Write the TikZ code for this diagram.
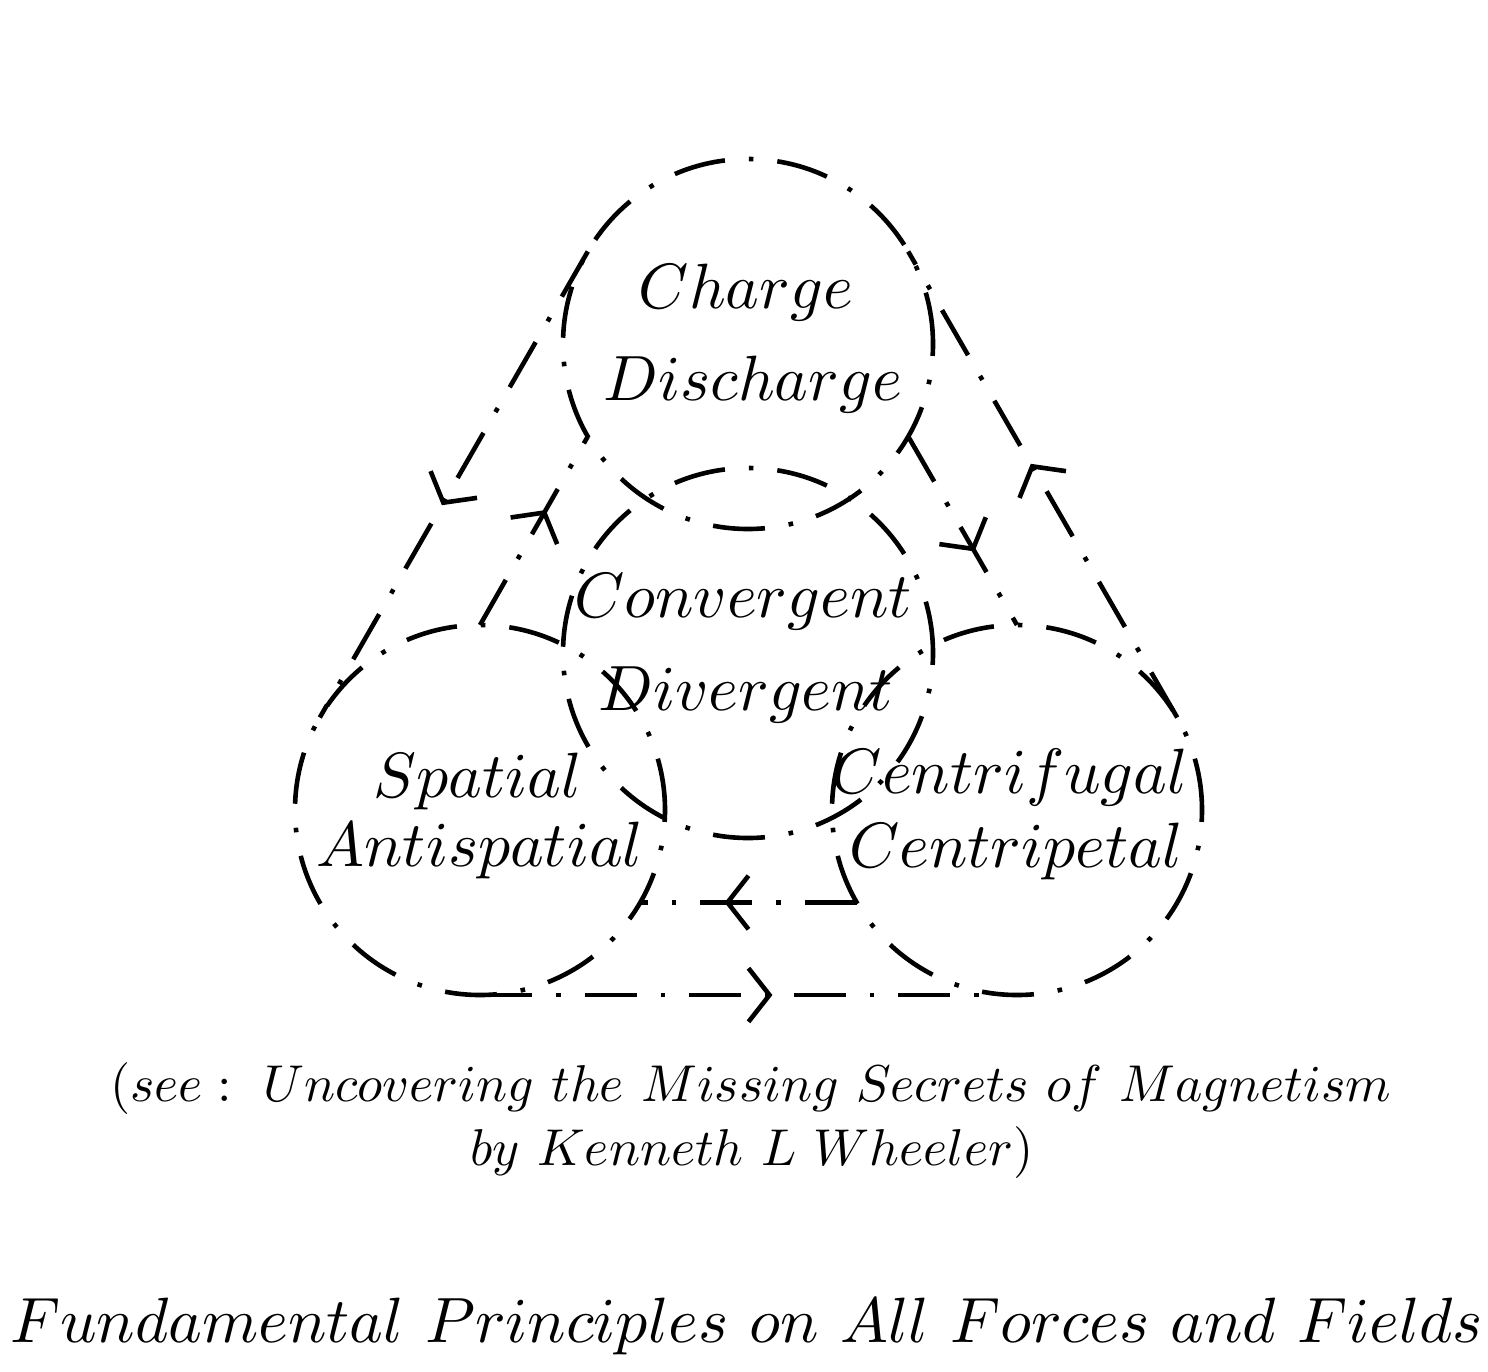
\documentclass[tikz,border=0pt]{standalone}
\usetikzlibrary{decorations.markings}
\begin{document}
\begin{tikzpicture}[x=0.5pt,y=-0.5pt,
  dd/.style={line width=2.3pt, line cap=butt, dash pattern=on 26pt off 12pt on 2.3pt off 12pt},
  ring/.style={circle, draw, dd, minimum size=185pt, inner sep=0pt, outer sep=0pt},
  flow/.style={dd, postaction={decorate}, decoration={markings, mark=at position 0.5 with {\draw[solid, line width=2.3pt, line join=miter] (0pt,13.4pt) -- (10.5pt,0pt) -- (0pt,-13.4pt);}}},
  lbl/.style={anchor=base, inner sep=0pt, outer sep=0pt, scale=3.2},
  captxt/.style={anchor=base, inner sep=0pt, outer sep=0pt, scale=2.59},
]
\useasboundingbox (0,0) rectangle (1488,1371);
% circles
\node[ring] (ctop) at (748,344) {};
\node[ring] (cmid) at (748,653) {};
\node[ring] (cleft) at (480,810) {};
\node[ring] (cright) at (1017,810) {};
% labels
\node[lbl] (t1) at (746,308) {$Charge$};
\node[lbl] (t2) at (753,400) {$Discharge$};
\node[lbl] (t3) at (743,617) {$Convergent$};
\node[lbl] (t4) at (746,710) {$Divergent$};
\node[lbl] (t5) at (478,797) {$Spatial$};
\node[lbl] (t6) at (480,866) {$Antispatial$};
\node[lbl] (t7) at (1010,793) {$Centrifugal$};
\node[lbl] (t8) at (1016,867) {$Centripetal$};
% outer loop
\draw[flow] (ctop.150) -- (cleft.150);
\draw[flow] (cleft.270) -- (cright.270);
\draw[flow] (cright.30) -- (ctop.30);
% inner loop
\draw[flow] (cleft.90) -- (ctop.210);
\draw[flow] (ctop.330) -- (cright.90);
\draw[flow] (cright.210) -- (cleft.330);
% captions
\node[captxt] (c1) at (751,1101) {$(see:\ Uncovering\ the\ Missing\ Secrets\ of\ Magnetism$};
\node[captxt] (c2) at (752,1165) {$by\ Kenneth\ L\ Wheeler)$};
\node[lbl] (title) at (747,1342) {$Fundamental\ Principles\ on\ All\ Forces\ and\ Fields$};
\end{tikzpicture}
\end{document}
